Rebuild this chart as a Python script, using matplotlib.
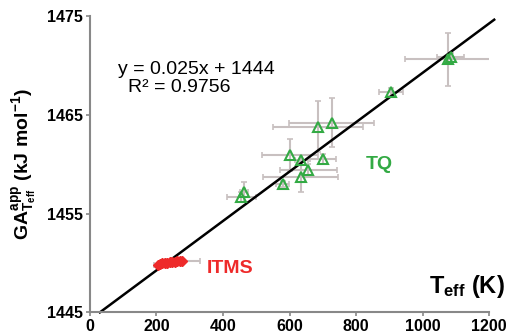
import matplotlib.pyplot as plt
import numpy as np

plt.rcParams['font.family'] = ['Liberation Sans', 'DejaVu Sans']
plt.rcParams['mathtext.fontset'] = 'custom'
plt.rcParams['mathtext.rm'] = 'Liberation Sans'
plt.rcParams['mathtext.bf'] = 'Liberation Sans:bold'

# TQ data (T_eff in K, GA in kJ/mol)
tq_T = [455, 462, 579, 633, 656, 601, 635, 700, 685, 727, 904, 1076, 1084]
tq_GA = [1456.7, 1457.2, 1458.0, 1458.7, 1459.4, 1460.9, 1460.4, 1460.5,
         1463.8, 1464.2, 1467.3, 1470.6, 1470.8]
tq_xerr = [44, 12, 20, 112, 86, 85, 20, 40, 136, 128, 36, 130, 40]
tq_yerr = [0.5, 1.0, 0.3, 1.5, 0.6, 1.6, 0.5, 0.5, 2.6, 2.5, 0.4, 2.7, 0.5]

# ITMS data
itms_T = [205, 212, 218, 225, 232, 240, 247, 255, 262, 270, 278]
itms_GA = [1449.8, 1449.9, 1449.95, 1450.0, 1450.0, 1450.05, 1450.1,
           1450.1, 1450.15, 1450.2, 1450.2]
itms_xerr = [12, 5, 5, 5, 5, 5, 5, 5, 5, 5, 52]

# linear fit
fit_slope = 0.025
fit_intercept = 1444.25
fit_T = np.array([30, 1215])

xticks = [0, 200, 400, 600, 800, 1000, 1200]
yticks = [1445, 1455, 1465, 1475]

fig = plt.figure(figsize=(5.08, 3.33), dpi=100)
ax = fig.add_axes([0.177, 0.062, 0.786, 0.890])

ebc = '#c8c0c0'
ax.errorbar(tq_T, tq_GA, xerr=tq_xerr, yerr=tq_yerr, fmt='none', ecolor=ebc,
            elinewidth=1.5, capsize=2.5, capthick=1.2, zorder=1)
ax.errorbar(itms_T, itms_GA, xerr=itms_xerr, fmt='none', ecolor=ebc,
            elinewidth=1.5, capsize=2.5, capthick=1.2, zorder=1)

ax.plot(fit_T, fit_slope * fit_T + fit_intercept, color='black', lw=1.8,
        zorder=2, clip_on=False)

ax.plot(tq_T, tq_GA, '^', ms=7, mfc='none', mec='#33aa44', mew=1.5, zorder=3)
ax.plot(itms_T, itms_GA, 'D', ms=5, color='#ee2a2a', zorder=3)

ax.set_xlim(0, 1200)
ax.set_ylim(1445, 1475)
ax.set_xticks(xticks)
ax.set_yticks(yticks)

for s in ['top', 'right']:
    ax.spines[s].set_visible(False)
for s in ['left', 'bottom']:
    ax.spines[s].set_color('#888888')
    ax.spines[s].set_linewidth(1.5)
ax.tick_params(colors='#888888', length=3, width=1.2, direction='out',
               labelcolor='black', labelsize=11.5, pad=2)
for lab in ax.get_xticklabels() + ax.get_yticklabels():
    lab.set_fontweight('bold')

fig.text(0.387, 0.79, 'y = 0.025x + 1444', fontsize=14,
         ha='center', va='center')
fig.text(0.352, 0.736, 'R² = 0.9756', fontsize=14, ha='center', va='center')

ax.text(870, 1460.0, 'TQ', color='#33aa44', fontsize=14, fontweight='bold',
        ha='center', va='center')
ax.text(422, 1449.4, 'ITMS', color='#ee2a2a', fontsize=14, fontweight='bold',
        ha='center', va='center')

ax.text(1.04, 0.087, r'$\mathbf{T_{eff}}$ (K)', transform=ax.transAxes,
        fontsize=17, fontweight='bold', ha='right', va='center')

ax.set_ylabel(r'$\mathbf{GA^{app}_{T_{eff}}}$ (kJ mol$\mathbf{^{-1}}$)',
              fontsize=14, fontweight='bold', labelpad=6)

plt.savefig('out.png', dpi=100)
